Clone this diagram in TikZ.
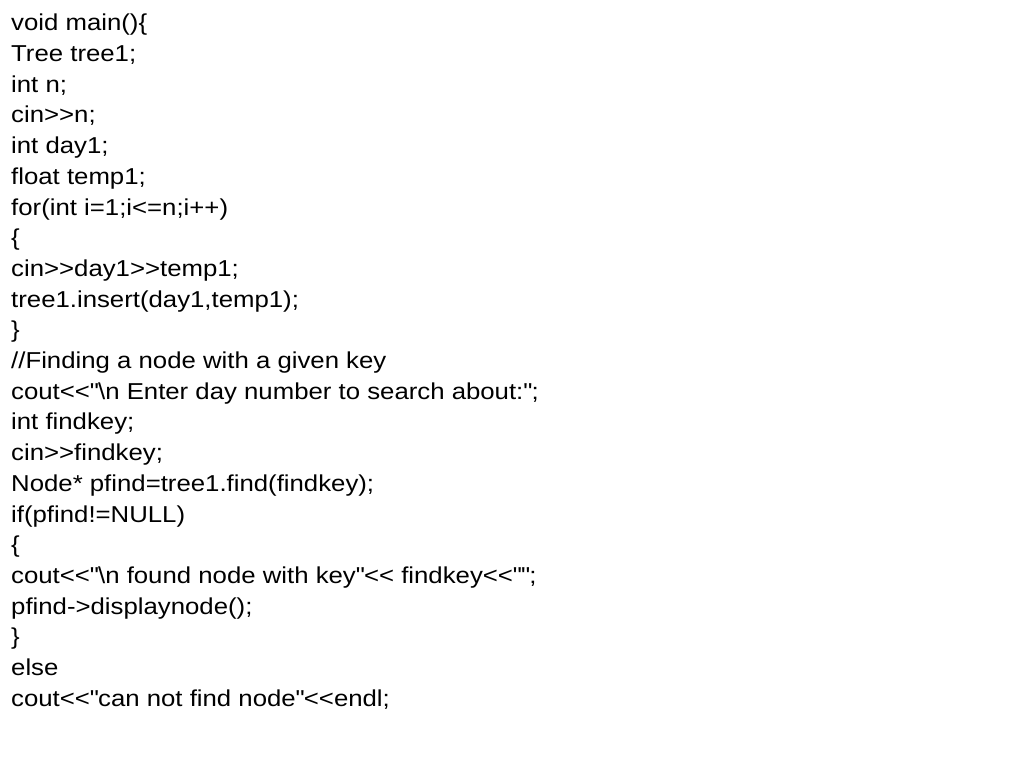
\documentclass[tikz,border=0pt]{standalone}
\usepackage{fontspec}
\setmainfont{Liberation Sans}[FakeStretch=1.12]
\usetikzlibrary{positioning}

\begin{document}
\begin{tikzpicture}[x=1bp,y=1bp]
		\tikzstyle{codeline} = [anchor=base west,inner sep=0pt,font=\fontsize{23bp}{27bp}\selectfont]
		\useasboundingbox (0,0) rectangle (1024,-768);
		% Header
		\node[codeline] (l1) at (11,-30.8) {void main()\{};
		\node[codeline] (l2) at (11,-61.5) {Tree tree1;};
		\node[codeline] (l3) at (11,-92.2) {int n;};
		\node[codeline] (l4) at (11,-122.9) {cin>{}>n;};
		\node[codeline] (l5) at (11,-153.6) {int day1;};
		\node[codeline] (l6) at (11,-184.3) {float temp1;};
		% Loop
		\node[codeline] (l7) at (11,-215.0) {for(int i=1;i<=n;i++)};
		\node[codeline] (l8) at (11,-245.7) {\{};
		\node[codeline] (l9) at (11,-276.4) {cin>{}>day1>{}>temp1;};
		\node[codeline] (l10) at (11,-307.1) {tree1.insert(day1,temp1);};
		\node[codeline] (l11) at (11,-337.8) {\}};
		% Search
		\node[codeline] (l12) at (11,-368.5) {//Finding a node with a given key};
		\node[codeline] (l13) at (11,-399.2) {cout<{}<\textquotedbl\textbackslash n Enter day number to search about:\textquotedbl;};
		\node[codeline] (l14) at (11,-429.9) {int findkey;};
		\node[codeline] (l15) at (11,-460.6) {cin>{}>findkey;};
		\node[codeline] (l16) at (11,-491.3) {Node* pfind=tree1.find(findkey);};
		\node[codeline] (l17) at (11,-522.0) {if(pfind!=NULL)};
		\node[codeline] (l18) at (11,-552.7) {\{};
		\node[codeline] (l19) at (11,-583.4) {cout<{}<\textquotedbl\textbackslash n found node with key\textquotedbl<{}< findkey<{}<\textquotedbl\textquotedbl;};
		\node[codeline] (l20) at (11,-614.1) {pfind->displaynode();};
		\node[codeline] (l21) at (11,-644.8) {\}};
		\node[codeline] (l22) at (11,-675.5) {else};
		\node[codeline] (l23) at (11,-706.2) {cout<{}<\textquotedbl can not find node\textquotedbl<{}<endl;};
\end{tikzpicture}
\end{document}
